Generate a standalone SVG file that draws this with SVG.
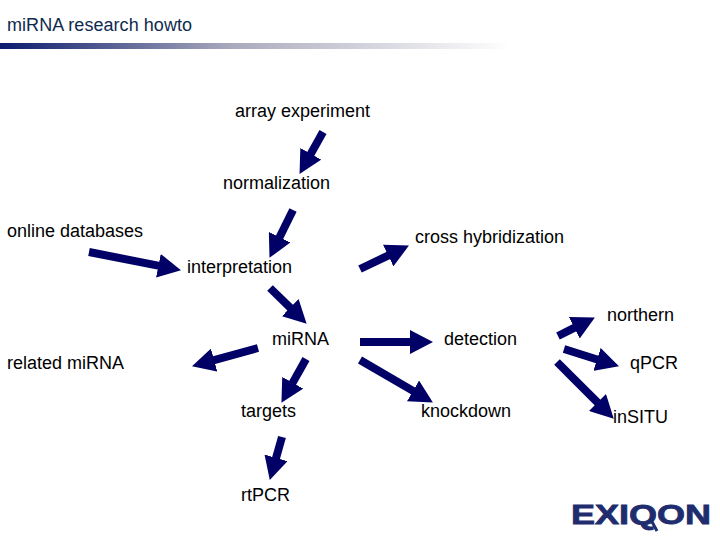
<svg xmlns="http://www.w3.org/2000/svg" width="720" height="540" viewBox="0 0 720 540">
<style>
text{font-family:"Liberation Sans",Arial,sans-serif;font-size:18px;fill:#000}
#title text{fill:#0f2a4f}
#connectors line{stroke:#000066;stroke-width:8;marker-end:url(#head)}
#logo text{font-weight:bold;font-size:27px;fill:#1f2d6e;stroke:#1f2d6e;stroke-width:.8}
</style>
<defs>
<linearGradient id="bar"><stop offset="0" stop-color="#0a1a6e"/><stop offset=".45" stop-color="#a9a9bd"/><stop offset="1" stop-color="#fff"/></linearGradient>
<marker id="head" markerUnits="userSpaceOnUse" markerWidth="23" markerHeight="24" refX="1" refY="12" orient="auto"><path d="M0 0L23 12L0 24z" fill="#000066"/></marker>
</defs>
<rect width="720" height="540" fill="#fff"/>
<g id="title"><text x="7" y="31" textLength="185">miRNA research howto</text><rect x="0" y="43" width="510" height="6" fill="url(#bar)"/></g>
<g id="connectors">
<line x1="323" y1="132" x2="310.3" y2="154.7"/>
<line x1="293" y1="210" x2="279.2" y2="238.1"/>
<line x1="89" y1="252" x2="159.4" y2="265.9"/>
<line x1="360" y1="269" x2="389.1" y2="255.1"/>
<line x1="270" y1="288" x2="290.9" y2="308.4"/>
<line x1="258" y1="348" x2="213.2" y2="360.4"/>
<line x1="306" y1="359" x2="292.2" y2="383.6"/>
<line x1="282" y1="437" x2="275.8" y2="458.8"/>
<line x1="360" y1="342" x2="411" y2="342"/>
<line x1="360" y1="360" x2="413.9" y2="391.4"/>
<line x1="558" y1="336" x2="575.2" y2="327.4"/>
<line x1="564" y1="349" x2="598" y2="359.7"/>
<line x1="557" y1="362" x2="598.2" y2="403.2"/>
</g>
<g id="n-array"><text x="235" y="117">array experiment</text></g>
<g id="n-normalization"><text x="223" y="189">normalization</text></g>
<g id="n-online"><text x="7" y="237">online databases</text></g>
<g id="n-cross"><text x="415" y="243">cross hybridization</text></g>
<g id="n-interpretation"><text x="187" y="273">interpretation</text></g>
<g id="n-northern"><text x="607" y="321">northern</text></g>
<g id="n-mirna"><text x="272" y="345">miRNA</text></g>
<g id="n-detection"><text x="444" y="345">detection</text></g>
<g id="n-related"><text x="7" y="369">related miRNA</text></g>
<g id="n-qpcr"><text x="630" y="369">qPCR</text></g>
<g id="n-targets"><text x="241" y="417">targets</text></g>
<g id="n-knockdown"><text x="421" y="417">knockdown</text></g>
<g id="n-insitu"><text x="613" y="423">inSITU</text></g>
<g id="n-rtpcr"><text x="241" y="501">rtPCR</text></g>
<g id="logo"><text x="571" y="524" textLength="140" lengthAdjust="spacingAndGlyphs">EXIQON</text><path d="M651 520L657 531" stroke="#1f2d6e" stroke-width="3" fill="none"/></g>
</svg>
